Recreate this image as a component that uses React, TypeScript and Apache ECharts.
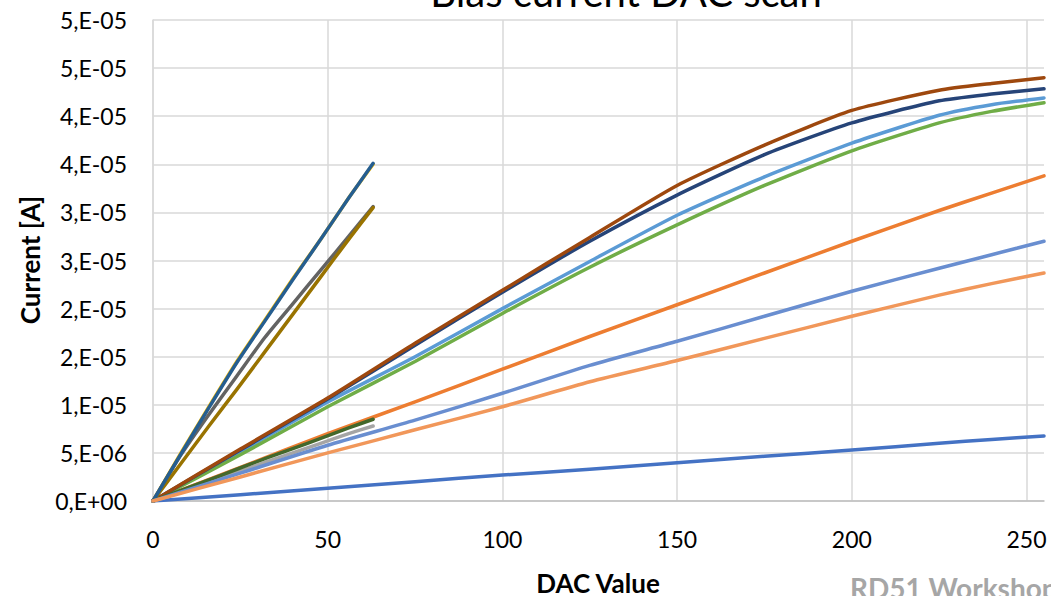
import React, { useEffect, useRef } from "react";
import * as echarts from "echarts";

// DAC x positions
const dacShort = [0, 8, 16, 24, 32, 40, 48, 56, 63];
const dacLong = [0, 25, 50, 75, 100, 125, 150, 175, 200, 225, 240, 255];

// Current [A] series (Excel palette order)
const s01 = [0, 0.65e-6, 1.32e-6, 2.0e-6, 2.7e-6, 3.3e-6, 3.98e-6, 4.65e-6, 5.3e-6, 6.0e-6, 6.4e-6, 6.76e-6];
const s02 = [0, 3.5e-6, 7.0e-6, 1.03e-5, 1.37e-5, 1.71e-5, 2.04e-5, 2.37e-5, 2.7e-5, 3.02e-5, 3.2e-5, 3.38e-5];
const s03 = [0, 1.0e-6, 2.0e-6, 3.0e-6, 4.0e-6, 5.0e-6, 6.0e-6, 7.0e-6, 7.8e-6];
const s04 = [0, 5.0e-6, 9.8e-6, 1.45e-5, 1.88e-5, 2.31e-5, 2.72e-5, 3.15e-5, 3.5e-5];
const s05 = [0, 5.1e-6, 1.03e-5, 1.5e-5, 2.0e-5, 2.49e-5, 2.97e-5, 3.37e-5, 3.72e-5, 4.01e-5, 4.12e-5, 4.19e-5];
const s06 = [0, 4.8e-6, 9.8e-6, 1.45e-5, 1.95e-5, 2.43e-5, 2.87e-5, 3.28e-5, 3.64e-5, 3.93e-5, 4.05e-5, 4.14e-5];
const s07 = [0, 5.3e-6, 1.06e-5, 1.62e-5, 2.17e-5, 2.7e-5, 3.18e-5, 3.6e-5, 3.93e-5, 4.16e-5, 4.23e-5, 4.285e-5];
const s08 = [0, 5.4e-6, 1.07e-5, 1.64e-5, 2.19e-5, 2.74e-5, 3.28e-5, 3.7e-5, 4.06e-5, 4.27e-5, 4.34e-5, 4.4e-5];
const s09 = [0, 4.8e-6, 9.0e-6, 1.3e-5, 1.7e-5, 2.05e-5, 2.4e-5, 2.75e-5, 3.06e-5];
const s10 = [0, 3.9e-6, 7.8e-6, 1.16e-5, 1.55e-5, 1.94e-5, 2.33e-5, 2.72e-5, 3.05e-5];
const s11 = [0, 4.9e-6, 9.7e-6, 1.44e-5, 1.87e-5, 2.3e-5, 2.72e-5, 3.15e-5, 3.51e-5];
const s12 = [0, 1.1e-6, 2.2e-6, 3.3e-6, 4.4e-6, 5.45e-6, 6.5e-6, 7.6e-6, 8.5e-6];
const s13 = [0, 2.9e-6, 5.8e-6, 8.4e-6, 1.12e-5, 1.41e-5, 1.66e-5, 1.92e-5, 2.18e-5, 2.42e-5, 2.56e-5, 2.7e-5];
const s14 = [0, 2.5e-6, 5.0e-6, 7.4e-6, 9.8e-6, 1.24e-5, 1.46e-5, 1.69e-5, 1.92e-5, 2.14e-5, 2.26e-5, 2.37e-5];

const seriesList = [
  { name: "S1", x: dacLong, y: s01, color: "#4472C4" },
  { name: "S2", x: dacLong, y: s02, color: "#ED7D31" },
  { name: "S3", x: dacShort, y: s03, color: "#A5A5A5" },
  { name: "S4", x: dacShort, y: s04, color: "#FFC000" },
  { name: "S5", x: dacLong, y: s05, color: "#5B9BD5" },
  { name: "S6", x: dacLong, y: s06, color: "#70AD47" },
  { name: "S7", x: dacLong, y: s07, color: "#264478" },
  { name: "S8", x: dacLong, y: s08, color: "#9E480E" },
  { name: "S9", x: dacShort, y: s09, color: "#636363" },
  { name: "S10", x: dacShort, y: s10, color: "#997300" },
  { name: "S11", x: dacShort, y: s11, color: "#255E91" },
  { name: "S12", x: dacShort, y: s12, color: "#43682B" },
  { name: "S13", x: dacLong, y: s13, color: "#698ED0" },
  { name: "S14", x: dacLong, y: s14, color: "#F1975A" },
];

const xTickValues = [0, 50, 100, 150, 200, 250];
const yTickLabels = [
  "0,E+00", "5,E-06", "1,E-05", "2,E-05", "2,E-05", "3,E-05",
  "3,E-05", "4,E-05", "4,E-05", "5,E-05", "5,E-05",
];

const titleText = "Bias current DAC scan";
const xTitle = "DAC Value";
const yTitle = "Current [A]";
const footerText = "RD51 Workshop";

const FONT = "Lato, 'Open Sans', sans-serif";

export default function App() {
  const ref = useRef<HTMLDivElement>(null);
  useEffect(() => {
    if (!ref.current) return;
    const chart = echarts.init(ref.current, undefined, { renderer: "svg" });
    chart.setOption({
      animation: false,
      backgroundColor: "#ffffff",
      grid: { left: 153, right: 7, top: 20, bottom: 95, containLabel: false },
      xAxis: {
        type: "value",
        min: 0,
        max: 255,
        interval: 50,
        axisLine: { show: true, lineStyle: { color: "#BFBFBF", width: 1.5 } },
        axisTick: { show: false, customValues: xTickValues },
        axisLabel: {
          customValues: xTickValues,
          color: "#000",
          fontFamily: FONT,
          fontSize: 23,
          margin: 26,
          formatter: (v: number) => (v % 50 === 0 ? String(v) : ""),
        },
        splitLine: { show: true, lineStyle: { color: "#D9D9D9", width: 1.5 } },
      },
      yAxis: {
        type: "value",
        min: 0,
        max: 5e-5,
        interval: 5e-6,
        axisLine: { show: true, lineStyle: { color: "#D9D9D9", width: 1.5 } },
        axisTick: { show: false },
        axisLabel: {
          color: "#000",
          fontFamily: FONT,
          fontSize: 23,
          margin: 26,
          formatter: (v: number) => yTickLabels[Math.round(v / 5e-6)] ?? "",
        },
        splitLine: { show: true, lineStyle: { color: "#D9D9D9", width: 1.5 } },
      },
      series: seriesList.map((s) => ({
        name: s.name,
        type: "line",
        data: s.x.map((x, i) => [x, s.y[i]]),
        showSymbol: false,
        symbol: "none",
        smooth: 0.2,
        lineStyle: { color: s.color, width: 3.5, cap: "round", join: "round" },
        itemStyle: { color: s.color },
      })),
      graphic: [
        {
          type: "text",
          x: 626,
          y: -8,
          style: {
            text: titleText,
            font: `40px ${FONT}`,
            fill: "#000",
            textAlign: "center",
            textVerticalAlign: "middle",
          },
        },
        {
          type: "text",
          x: 30,
          y: 260,
          rotation: Math.PI / 2,
          style: {
            text: yTitle,
            font: `bold 26px ${FONT}`,
            fill: "#000",
            textAlign: "center",
            textVerticalAlign: "middle",
          },
        },
        {
          type: "text",
          x: 598,
          y: 583,
          style: {
            text: xTitle,
            font: `bold 26px ${FONT}`,
            fill: "#000",
            textAlign: "center",
            textVerticalAlign: "middle",
          },
        },
        {
          type: "text",
          x: 850,
          y: 588,
          style: {
            text: footerText,
            font: `bold 28px ${FONT}`,
            fill: "#A6A6A6",
            textAlign: "left",
            textVerticalAlign: "middle",
          },
        },
      ],
    });
    return () => chart.dispose();
  }, []);
  return (
    <div
      ref={ref}
      style={{ position: "fixed", left: 0, top: 0, width: 1051, height: 596, background: "#fff" }}
    />
  );
}
